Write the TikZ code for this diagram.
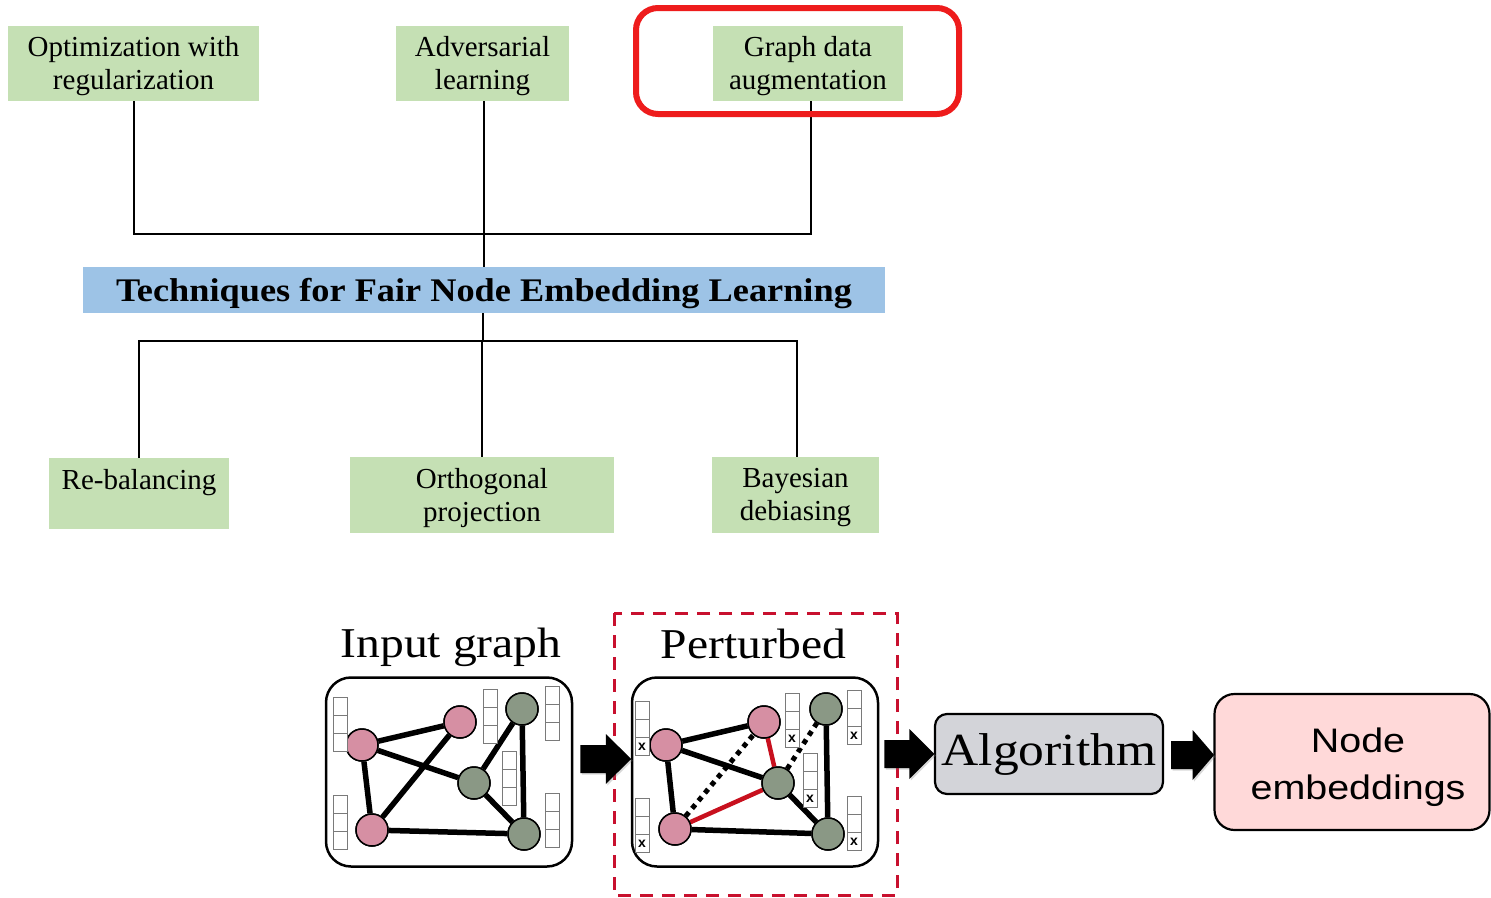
\documentclass[tikz,border=0pt]{standalone}
\usepackage{fontspec}
\setmainfont{Liberation Serif}
\setsansfont{Liberation Sans}
\usetikzlibrary{shadows}

\definecolor{boxgreen}{HTML}{C5E0B4}
\definecolor{barblue}{HTML}{9DC3E6}
\definecolor{hlred}{HTML}{EE1C1C}
\definecolor{dashred}{HTML}{C8102E}
\definecolor{nodepink}{HTML}{D68FA3}
\definecolor{nodegreen}{HTML}{8A9885}
\definecolor{edgered}{HTML}{C8101E}
\definecolor{algogray}{HTML}{D3D4D9}
\definecolor{embpink}{HTML}{FFD9D9}
\definecolor{cellgray}{HTML}{7A7A7A}

\tikzset{
  cat/.style={fill=boxgreen, inner sep=0pt},
  cattext/.style={inner sep=0pt, align=center, font=\fontsize{29}{33}\selectfont},
  titlebar/.style={fill=barblue, inner sep=0pt},
  titletext/.style={inner sep=0pt, font=\bfseries\fontsize{33}{40}\selectfont},
  conn/.style={line width=2pt, draw=black},
  gbox/.style={draw, line width=2.5pt, rounded corners=25pt, fill=white,
    minimum width=246pt, minimum height=189pt, inner sep=0pt},
  gnode/.style={circle, draw, line width=1.5pt, minimum size=32pt, inner sep=0pt},
  pk/.style={gnode, fill=nodepink},
  gr/.style={gnode, fill=nodegreen},
  edge/.style={line width=5.5pt},
  redge/.style={line width=4.5pt, draw=edgered},
  dotedge/.style={line width=5pt, dash pattern=on 5pt off 5pt},
  cellline/.style={draw=cellgray, line width=1pt},
  fvec/.pic={
    \draw[cellline, fill=white] (0,0) rectangle (14,54);
    \draw[cellline] (0,18) -- (14,18) (0,36) -- (14,36);
  },
  fvecx/.pic={
    \draw[cellline, fill=white] (0,0) rectangle (14,54);
    \draw[cellline] (0,18) -- (14,18) (0,36) -- (14,36);
    \node[font=\sffamily\bfseries\fontsize{14}{14}\selectfont, inner sep=0pt]
      at (7,46) {x};
  },
  fatarrow/.pic={
    \fill[black, drop shadow={opacity=0.3, shadow xshift=1.5pt, shadow yshift=-1.5pt}]
      (0,-14) -- (#1/2,-14) -- (#1/2,-25) -- (#1,0) -- (#1/2,25)
      -- (#1/2,14) -- (0,14) -- cycle;
  },
  biglabel/.style={anchor=base, inner sep=0pt, font=\fontsize{42.5}{50}\selectfont},
  algo/.style={draw, line width=2.2pt, rounded corners=12pt, fill=algogray,
    minimum width=228pt, minimum height=80pt, inner sep=0pt,
    font=\fontsize{46}{50}\selectfont},
  emb/.style={draw, line width=2.2pt, rounded corners=20pt, fill=embpink,
    minimum width=275pt, minimum height=136pt, inner sep=0pt},
  embtext/.style={inner sep=0pt, align=center,
    font=\sffamily\fontsize{34}{47}\selectfont}
}

\begin{document}
\begin{tikzpicture}[x=1pt, y=-1pt]
\useasboundingbox[fill=white] (0,0) rectangle (1491,897);

% ---------- taxonomy of techniques ----------
\node[cat, minimum width=251pt, minimum height=75pt] (opt) at (133.5,63.5) {};
\node[cat, minimum width=173pt, minimum height=75pt] (adv) at (482.5,63.5) {};
\node[cat, minimum width=190pt, minimum height=75pt] (aug) at (808,63) {};
\node[cattext] (optt) at ([yshift=-3pt]opt.center) {Optimization with\\regularization};
\node[cattext] (advt) at ([yshift=-3pt]adv.center) {Adversarial\\learning};
\node[cattext] (augt) at ([yshift=-3pt]aug.center) {Graph data\\augmentation};

\node[titlebar, minimum width=802pt, minimum height=46pt] (title) at (484,290) {};
\node[titletext] (titlet) at ([yshift=-4pt]title.center)
  {\scalebox{1.1}[1]{Techniques for Fair Node Embedding Learning}};

\node[cat, minimum width=180pt, minimum height=71pt] (reb) at (139,493.5) {};
\node[cat, minimum width=264pt, minimum height=76pt] (orth) at (482,495) {};
\node[cat, minimum width=167pt, minimum height=76pt] (bay) at (795.5,495) {};
\node[cattext, anchor=base] (rebt) at (139,489) {Re-balancing};
\node[cattext] (ortht) at ([yshift=-3pt]orth.center) {Orthogonal\\projection};
\node[cattext] (bayt) at ([yshift=-3pt]bay.center) {Bayesian\\debiasing};

% branching connectors
\coordinate (tj) at (484,234);
\coordinate (bj) at (483,341);
\draw[conn] (opt.south) |- (tj) -| ([xshift=3pt]aug.south);
\draw[conn] ([xshift=1.5pt]adv.south) -- ([xshift=1.5pt]adv.south |- title.north);
\draw[conn] (title.south -| bj) -- (bj);
\draw[conn] (reb.north) |- (bj) -| ([xshift=1.5pt]bay.north);
\draw[conn] (orth.north) -- (orth.north |- bj);

% highlight frame
\draw[hlred, line width=6pt, rounded corners=22pt] (636,8) rectangle (959,114);

% ---------- pipeline ----------
\node[biglabel] (inlbl) at (451,657) {\scalebox{1.12}[1]{Input graph}};
\node[biglabel] (ptlbl) at (753.5,658) {\scalebox{1.12}[1]{Perturbed}};

\draw[dashred, line width=3pt, dash pattern=on 13pt off 9pt] (614,613) rectangle (897,895);

\node[gbox] (ing) at (449,772) {};
\node[gbox] (pg) at (755,772) {};

% input graph
\node[pk] (a1) at (362,745) {};
\node[pk] (a2) at (460,722) {};
\node[pk] (a3) at (372,830) {};
\node[gr] (a4) at (522,709) {};
\node[gr] (a5) at (474,783) {};
\node[gr] (a6) at (524,834) {};
\draw[edge] (a1) -- (a2) (a1) -- (a3) (a1) -- (a5) (a2) -- (a3)
            (a3) -- (a6) (a5) -- (a6) (a5) -- (a4) (a4) -- (a6);
\foreach \n/\c in {a1/pk,a2/pk,a3/pk,a4/gr,a5/gr,a6/gr}
  \node[\c] at (\n) {};
\pic at (333,697) {fvec};
\pic at (333,795) {fvec};
\pic at (483,689) {fvec};
\pic at (545,686) {fvec};
\pic at (502,751) {fvec};
\pic at (545,793) {fvec};

% perturbed graph
\node[pk] (b1) at (666,745) {};
\node[pk] (b2) at (764,722) {};
\node[pk] (b3) at (675,829) {};
\node[gr] (b4) at (826,709) {};
\node[gr] (b5) at (778,783) {};
\node[gr] (b6) at (828,834) {};
\draw[edge] (b1) -- (b2) (b1) -- (b3) (b1) -- (b5)
            (b3) -- (b6) (b5) -- (b6) (b4) -- (b6);
\draw[dotedge] (b3) -- (b2) (b5) -- (b4);
\draw[redge] (b2) -- (b5) (b3) -- (b5);
\foreach \n/\c in {b1/pk,b2/pk,b3/pk,b4/gr,b5/gr,b6/gr}
  \node[\c] at (\n) {};
\pic at (635,701) {fvecx};
\pic at (635,798) {fvecx};
\pic at (785,693) {fvecx};
\pic at (847,690) {fvecx};
\pic at (803,753) {fvecx};
\pic at (847,796) {fvecx};

% algorithm and output
\node[algo] (alg) at (1049,754) {\scalebox{1.12}[1]{Algorithm}};
\node[emb] (out) at (1352,762) {};
\node[embtext] (outt) at ([xshift=6pt, yshift=-5pt]out.center)
  {\scalebox{1.16}[1]{Node}\\\scalebox{1.16}[1]{embeddings}};

% block arrows between the stages
\path (ing.east) ++(7,-13) pic {fatarrow=51};
\path (pg.east) ++(5,-18) pic {fatarrow=50};
\path (alg.east) ++(7,1) pic {fatarrow=43};
\end{tikzpicture}
\end{document}
